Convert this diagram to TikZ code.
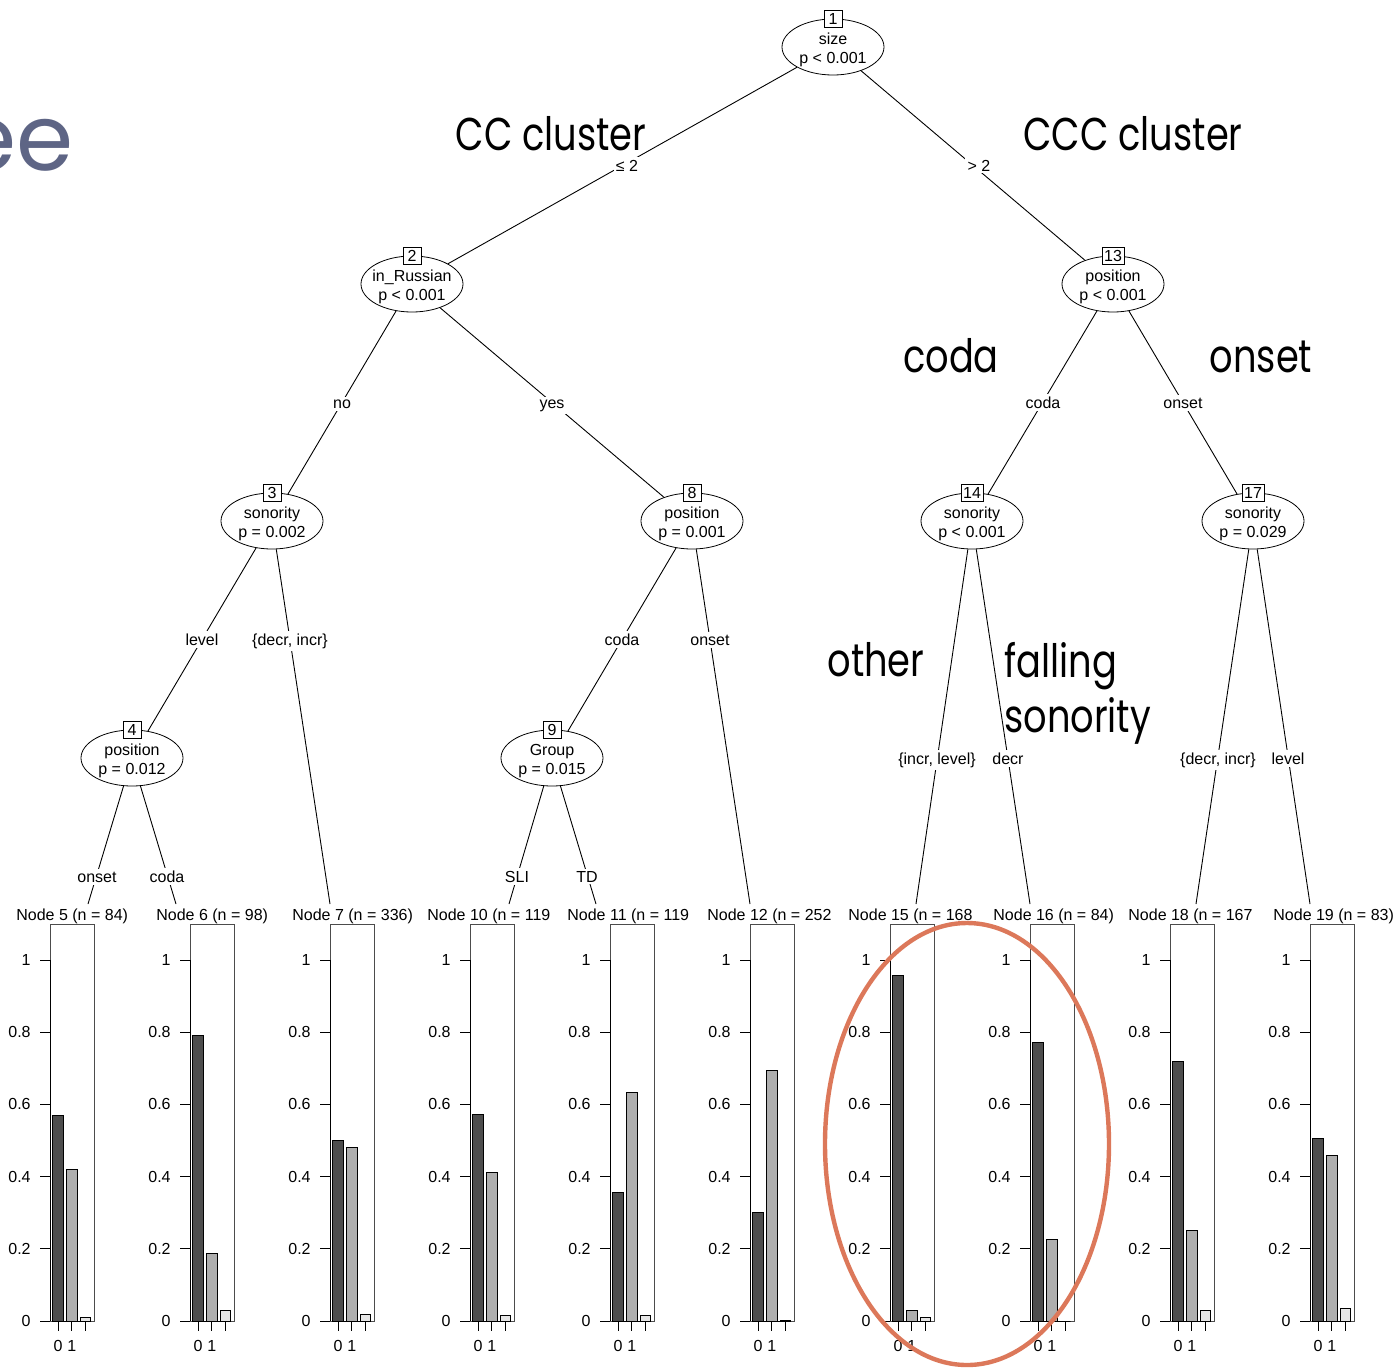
\documentclass[tikz,border=0pt]{standalone}
\usepackage{fontspec}
\setmainfont{Liberation Sans}
\newfontfamily\annotfont{Poppins}
\usetikzlibrary{shapes.geometric}
\definecolor{bardark}{HTML}{4D4D4D}
\definecolor{barmid}{HTML}{AEAEAE}
\definecolor{barlight}{HTML}{E6E6E6}
\definecolor{slate}{HTML}{5E6585}
\definecolor{hilite}{HTML}{DC785A}
\tikzset{
  innernode/.style={ellipse, draw, fill=white, minimum width=51pt, minimum height=28pt, inner sep=0pt},
  innertext/.style={align=center, inner sep=0pt},
  idbox/.style={draw, fill=white, inner sep=1pt, minimum height=8.5pt, minimum width=9pt},
  treeedge/.style={line width=0.45pt},
  elabel/.style={fill=white, inner sep=1.2pt, anchor=base},
  leaftitle/.style={anchor=base west, inner sep=0pt},
  panelbox/.style={draw=black!70, line width=0.45pt},
  barbox/.style={draw=black, line width=0.4pt},
  axisline/.style={line width=0.45pt},
  annot/.style={font=\annotfont\fontsize{23pt}{27pt}\selectfont, inner sep=0pt, xscale=0.8},
  hiliteline/.style={draw=hilite, line width=2.2pt}
}
\begin{document}
\begin{tikzpicture}[x=0.5pt,y=-0.5pt, font=\fontsize{8pt}{9.5pt}\selectfont]
\useasboundingbox (0,0) rectangle (1399,1367);

% inner nodes (ellipses)
\node[innernode] (n1) at (833,47) {};
\node[innernode] (n2) at (412,284) {};
\node[innernode] (n3) at (272,521) {};
\node[innernode] (n4) at (132,758) {};
\node[innernode] (n8) at (692,521) {};
\node[innernode] (n9) at (552,758) {};
\node[innernode] (n13) at (1113,284) {};
\node[innernode] (n14) at (972,521) {};
\node[innernode] (n17) at (1253,521) {};

% inner node texts
\node[innertext] (n1t) at (833,50) {size\\p < 0.001};
\node[innertext] (n2t) at (412,287) {in\_Russian\\p < 0.001};
\node[innertext] (n3t) at (272,524) {sonority\\p = 0.002};
\node[innertext] (n4t) at (132,761) {position\\p = 0.012};
\node[innertext] (n8t) at (692,524) {position\\p = 0.001};
\node[innertext] (n9t) at (552,761) {Group\\p = 0.015};
\node[innertext] (n13t) at (1113,287) {position\\p < 0.001};
\node[innertext] (n14t) at (972,524) {sonority\\p < 0.001};
\node[innertext] (n17t) at (1253,524) {sonority\\p = 0.029};

% leaf edge ends
\coordinate (e5) at (88,904);
\coordinate (e6) at (176,904);
\coordinate (e7) at (330,904);
\coordinate (e10) at (509,904);
\coordinate (e11) at (596,904);
\coordinate (e12) at (750,904);
\coordinate (e15) at (916,904);
\coordinate (e16) at (1030,904);
\coordinate (e18) at (1196,904);
\coordinate (e19) at (1310,904);

% edges
\draw[treeedge] (n1) -- (n2);
\draw[treeedge] (n1) -- (n13);
\draw[treeedge] (n2) -- (n3);
\draw[treeedge] (n2) -- (n8);
\draw[treeedge] (n3) -- (n4);
\draw[treeedge] (n3) -- (e7);
\draw[treeedge] (n4) -- (e5);
\draw[treeedge] (n4) -- (e6);
\draw[treeedge] (n8) -- (n9);
\draw[treeedge] (n8) -- (e12);
\draw[treeedge] (n9) -- (e10);
\draw[treeedge] (n9) -- (e11);
\draw[treeedge] (n13) -- (n14);
\draw[treeedge] (n13) -- (n17);
\draw[treeedge] (n14) -- (e15);
\draw[treeedge] (n14) -- (e16);
\draw[treeedge] (n17) -- (e18);
\draw[treeedge] (n17) -- (e19);

% id boxes
\node[idbox] (b1) at (n1.north) {1};
\node[idbox] (b2) at (n2.north) {2};
\node[idbox] (b3) at (n3.north) {3};
\node[idbox] (b4) at (n4.north) {4};
\node[idbox] (b8) at (n8.north) {8};
\node[idbox] (b9) at (n9.north) {9};
\node[idbox] (b13) at (n13.north) {13};
\node[idbox] (b14) at (n14.north) {14};
\node[idbox] (b17) at (n17.north) {17};

% edge labels
\node[elabel] (l1) at (627,171) {≤ 2};
\node[elabel] (l2) at (979,171) {> 2};
\node[elabel] (l3) at (342,408) {no};
\node[elabel] (l4) at (552,408) {yes};
\node[elabel] (l5) at (202,645) {level};
\node[elabel] (l6) at (290,645) {\{decr, incr\}};
\node[elabel] (l7) at (622,645) {coda};
\node[elabel] (l8) at (710,645) {onset};
\node[elabel] (l9) at (1043,408) {coda};
\node[elabel] (l10) at (1183,408) {onset};
\node[elabel] (l11) at (937,764) {\{incr, level\}};
\node[elabel] (l12) at (1008,764) {decr};
\node[elabel] (l13) at (1218,764) {\{decr, incr\}};
\node[elabel] (l14) at (1288,764) {level};
\node[elabel] (l15) at (97,882) {onset};
\node[elabel] (l16) at (167,882) {coda};
\node[elabel] (l17) at (517,882) {SLI};
\node[elabel] (l18) at (587,882) {TD};

% leaf titles
\node[leaftitle] (t5) at (16,920) {Node 5 (n = 84)};
\node[leaftitle] (t6) at (156,920) {Node 6 (n = 98)};
\node[leaftitle] (t7) at (292,920) {Node 7 (n = 336)};
\node[leaftitle] (t10) at (427,920) {Node 10 (n = 119};
\node[leaftitle] (t11) at (567,920) {Node 11 (n = 119};
\node[leaftitle] (t12) at (707,920) {Node 12 (n = 252};
\node[leaftitle] (t15) at (848,920) {Node 15 (n = 168};
\node[leaftitle] (t16) at (993,920) {Node 16 (n = 84)};
\node[leaftitle] (t18) at (1128,920) {Node 18 (n = 167};
\node[leaftitle] (t19) at (1273,920) {Node 19 (n = 83)};

% panels
\foreach \i/\a/\b/\c in {0/0.570/0.420/0.010, 1/0.790/0.186/0.030, 2/0.501/0.482/0.017, 3/0.571/0.413/0.015, 4/0.355/0.632/0.015, 5/0.302/0.695/0.003, 6/0.958/0.030/0.011, 7/0.773/0.227/0.000, 8/0.720/0.252/0.030, 9/0.507/0.460/0.036}{
  \pgfmathsetmacro\xl{50+140*\i}
  \draw[panelbox] (\xl,924) rectangle (\xl+44,1321);
  \draw[barbox, fill=bardark] (\xl+2.6,1321) rectangle (\xl+13.3,{1321-361*\a});
  \draw[barbox, fill=barmid] (\xl+16.3,1321) rectangle (\xl+27,{1321-361*\b});
  \draw[barbox, fill=barlight] (\xl+30,1321) rectangle (\xl+40.7,{1321-361*\c});
  \draw[axisline] (\xl,960) -- (\xl,1321);
  \foreach \v/\t [count=\k] in {0/0,0.2/0.2,0.4/0.4,0.6/0.6,0.8/0.8,1/1}{
    \draw[axisline] (\xl-10,{1321-361*\v}) -- (\xl,{1321-361*\v});
    \node[anchor=east, inner sep=0pt] (yl\i-\k) at (\xl-19,{1321-361*\v}) {\t};
  }
  \draw[axisline] (\xl+8,1321) -- (\xl+35.4,1321);
  \draw[axisline] (\xl+8,1321) -- (\xl+8,1331);
  \draw[axisline] (\xl+21.7,1321) -- (\xl+21.7,1331);
  \draw[axisline] (\xl+35.4,1321) -- (\xl+35.4,1331);
  \node[inner sep=0pt, anchor=base] (xa\i) at (\xl+8,1351) {0};
  \node[inner sep=0pt, anchor=base] (xb\i) at (\xl+21.7,1351) {1};
}

% annotations
\node[annot, anchor=base] (cc) at (551,150) {CC cluster};
\node[annot, anchor=base] (ccc) at (1133,150) {CCC cluster};
\node[annot, anchor=base] (acoda) at (951,372) {coda};
\node[annot, anchor=base] (aonset) at (1261,372) {onset};
\node[annot, anchor=base] (aother) at (876,676) {other};
\node[annot, anchor=base west] (afall) at (1004,677) {falling};
\node[annot, anchor=base west] (ason) at (1004,732) {sonority};
\node[font=\annotfont\fontsize{46pt}{50pt}\selectfont, text=slate, anchor=base east, inner sep=0pt] (title) at (74,170) {ee};

% highlight
\draw[hiliteline] (967,1144) ellipse [x radius=71pt, y radius=110.5pt];
\end{tikzpicture}
\end{document}
